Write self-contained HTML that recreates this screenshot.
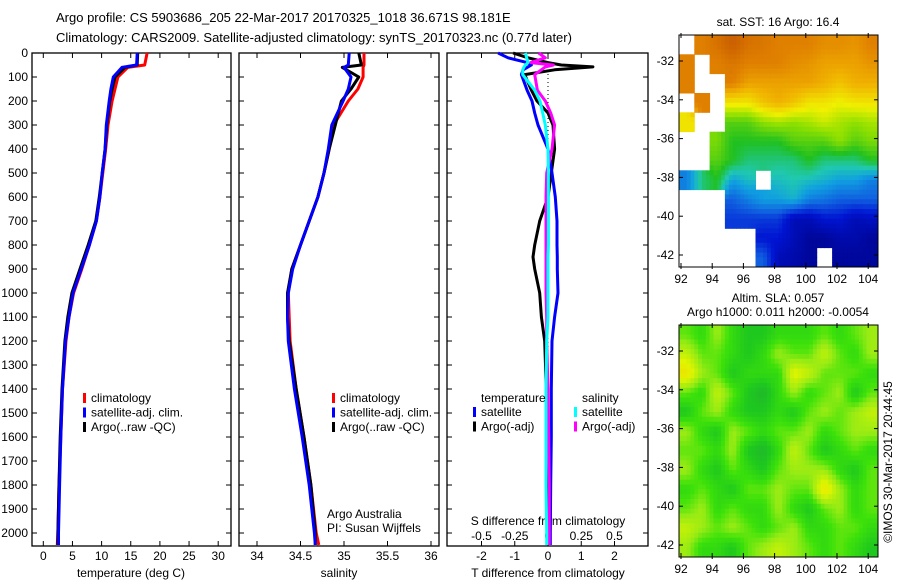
<!DOCTYPE html>
<html><head><meta charset="utf-8"><style>
body{margin:0;background:#fff;}
svg{display:block;font-family:"Liberation Sans",sans-serif;}
text{fill:#000;}
</style></head><body>
<svg id="c" width="900" height="580" viewBox="0 0 900 580">
<text x="56" y="22" font-size="13">Argo profile: CS 5903686_205 22-Mar-2017 20170325_1018 36.671S 98.181E</text>
<text x="56" y="42" font-size="13">Climatology: CARS2009. Satellite-adjusted climatology: synTS_20170323.nc (0.77d later)</text>
</svg>
<script>
// ---------- data ----------
const depthTicks=[0,100,200,300,400,500,600,700,800,900,1000,1100,1200,1300,1400,1500,1600,1700,1800,1900,2000];
const tempTicks=[0,5,10,15,20,25,30];
const salTicks=[34,34.5,35,35.5,36];
const tdTicks=[-2,-1,0,1,2];
const sdTicks=[-0.5,-0.25,0,0.25,0.5];
const sdTickLabels=["-0.5","-0.25","0","0.25","0.5"];
const latTicks=[-32,-34,-36,-38,-40,-42];
const lonTicks=[92,94,96,98,100,102,104];

const depths=[0,50,60,100,150,200,300,400,500,600,700,800,900,1000,1100,1200,1400,1600,1800,2000,2050];
const tempClim=[17.8,17.4,14.5,12.8,12.3,11.8,11.1,10.7,10.2,9.7,9.1,7.9,6.6,5.2,4.4,3.9,3.3,3.0,2.7,2.5,2.4];
const tempSat=[16.1,16.0,13.5,12.0,11.6,11.3,10.8,10.6,10.1,9.7,9.1,7.9,6.5,5.1,4.4,3.8,3.3,3.0,2.8,2.6,2.6];
const tempArgo=[16.2,16.1,14.0,12.3,11.8,11.4,10.9,10.6,10.1,9.6,9.0,7.7,6.3,4.9,4.2,3.7,3.2,2.9,2.7,2.5,2.5];
const salClim=[35.23,35.23,35.22,35.22,35.16,35.05,34.88,34.83,34.77,34.7,34.6,34.5,34.4,34.36,34.37,34.38,34.45,34.54,34.62,34.68,34.71];
const salSat=[35.06,35.05,35.0,35.08,35.05,34.99,34.86,34.82,34.77,34.7,34.6,34.5,34.41,34.36,34.35,34.36,34.43,34.52,34.6,34.66,34.67];
const salArgo=[35.17,35.2,34.98,35.17,35.08,34.97,34.9,34.83,34.77,34.7,34.6,34.5,34.4,34.35,34.35,34.37,34.45,34.54,34.62,34.67,34.67];

const dDepths=[0,20,40,50,58,70,90,155,200,250,300,400,500,600,700,800,850,900,1000,1100,1200,1400,1600,1800,2000,2050];
const tdSat=[-1.5,-1.2,-0.63,-0.5,-0.6,-0.75,-0.8,-0.63,-0.48,-0.4,-0.3,0,0.12,0.22,0.27,0.27,0.28,0.28,0.3,0.2,0.12,0.1,0.1,0.08,0.07,0.07];
const tdArgo=[-1.05,-0.6,0,0.4,1.35,0.2,-0.7,-0.5,-0.33,0,0.15,0.2,0.1,0,-0.25,-0.4,-0.45,-0.4,-0.25,-0.2,-0.1,-0.05,-0.03,0,0,0];
const sdSat=[-0.17,-0.16,-0.15,-0.17,-0.18,-0.19,-0.19,-0.1,-0.06,-0.04,-0.02,0,0.003,0.003,0.003,0.003,0,0,0,0,-0.01,-0.015,-0.015,-0.015,-0.01,-0.01];
const sdArgo=[-0.07,-0.02,-0.13,0.04,-0.02,-0.05,-0.1,-0.08,-0.02,0.02,0.05,0.03,-0.01,-0.015,-0.015,-0.015,-0.015,-0.015,-0.015,-0.01,-0.01,0,0.005,0.01,0.01,0.01];

const sstGrid=[
[null,0.85,0.88,0.92,0.88,0.87,0.85,0.85,0.85,0.83,0.83,0.82,0.85],
[0.85,null,0.85,0.87,0.85,0.85,0.85,0.83,0.82,0.8,0.8,0.8,0.82],
[0.85,null,null,0.85,0.8,0.8,0.8,0.8,0.8,0.78,0.75,0.78,0.78],
[null,0.85,null,0.7,0.7,0.75,0.78,0.75,0.7,0.7,0.68,0.7,0.7],
[0.7,null,null,0.55,0.55,0.6,0.62,0.6,0.62,0.65,0.62,0.6,0.62],
[null,null,0.58,0.5,0.5,0.5,0.5,0.55,0.55,0.55,0.6,0.55,0.58],
[null,null,0.55,0.5,0.45,0.45,0.45,0.45,0.5,0.45,0.45,0.45,0.5],
[0.3,0.45,0.5,0.35,0.4,null,0.4,0.42,0.4,0.38,0.35,0.35,0.3],
[null,null,null,0.25,0.3,0.35,0.35,0.38,0.3,0.28,0.25,0.25,0.25],
[null,null,null,0.2,0.2,0.2,0.2,0.1,0.1,0.15,0.15,0.1,0.12],
[null,null,null,null,null,0.15,0.15,0.1,0.05,0.05,0.08,0.08,0.05],
[null,null,null,null,null,0.25,0.1,0.08,0.05,null,0.05,0.05,0.05]];
const slaGrid=[
[.5,.4,.6,.4,.3,.3,.4,.4,.4,.5,.4,.5,.6],
[.7,.5,.5,.4,.3,.4,.6,.5,.5,.7,.5,.4,.6],
[.9,.6,.5,.3,.4,.4,.4,.8,.7,.5,.5,.5,.4],
[.5,.4,.7,.5,.3,.2,.4,.6,.4,.5,.6,.3,.5],
[.3,.5,.6,.4,.3,.3,.4,.3,.5,.6,.5,.6,.7],
[.6,.4,.3,.6,.5,.4,.5,.5,.6,.4,.5,.6,.6],
[.5,.5,.4,.6,.3,.2,.4,.7,.5,.3,.4,.5,.4],
[.6,.4,.3,.5,.4,.3,.5,.6,.6,.6,.4,.3,.5],
[.4,.5,.4,.3,.5,.5,.6,.5,.5,.9,.6,.4,.5],
[.5,.6,.4,.5,.4,.4,.6,.4,.3,.5,.6,.4,.5],
[.7,.6,.5,.6,.5,.4,.5,.6,.4,.4,.5,.5,.4],
[.6,.4,.4,.3,.5,.6,.7,.6,.5,.4,.5,.4,.3]];

// ---------- helpers ----------
const svg=document.getElementById('c');const NS='http://www.w3.org/2000/svg';
function mk(tag,at,parent){const e=document.createElementNS(NS,tag);for(const k in at)e.setAttribute(k,at[k]);(parent||svg).appendChild(e);return e;}
function txt(x,y,s,anchor,size){const t=mk('text',{x:x,y:y,'font-size':size||12,'text-anchor':anchor||'start'});t.textContent=s;return t;}
const Y=d=>53+d*0.24;
const top0=45,bot=546;
const panels=[
 {l:32,r:231,x:v=>43.3+v*5.83},
 {l:239,r:439,x:v=>257+(v-34)*87},
 {l:447,r:648,x:v=>548+v*33.25}];
const sx=v=>548+v*133;

panels.forEach((p,i)=>{
 const b=mk('rect',{x:p.l,y:top0+8,width:p.r-p.l,height:bot-top0-8,fill:'none',stroke:'#000','stroke-width':1.3});
 
 
 depthTicks.forEach(d=>{
  mk('line',{x1:p.l,x2:p.l+5,y1:Y(d),y2:Y(d),stroke:'#000'});
  mk('line',{x1:p.r-5,x2:p.r,y1:Y(d),y2:Y(d),stroke:'#000'});
 });
});
depthTicks.forEach(d=>{const t=txt(28,Y(d)+4,String(d),'end');
 
 });

function xticks(p,ticks,labels,ly,top){
 ticks.forEach((v,i)=>{const x=p(v);
  mk('line',{x1:x,x2:x,y1:bot-5,y2:bot,stroke:'#000'});
  if(top) mk('line',{x1:x,x2:x,y1:53,y2:58,stroke:'#000'});
  const t=txt(x,ly,labels?labels[i]:String(v),'middle');
  
  });
}
xticks(panels[0].x,tempTicks,null,560,true);
xticks(panels[1].x,salTicks,null,560,true);
xticks(panels[2].x,tdTicks,null,560,true);
sdTicks.forEach((v,i)=>{const t=txt(sx(v),540,sdTickLabels[i],'middle');
 
 });
[['temperature (deg C)',131,'temperature-axis-title'],['salinity',339,'salinity-axis-title'],['T difference from climatology',548,'t-diff-axis-title']].forEach(a=>{
 const t=txt(a[1],577,a[0],'middle');
 
 });
const sdt=txt(548,525,'S difference from climatology','middle');



mk('line',{x1:548,x2:548,y1:54,y2:545,stroke:'#000','stroke-dasharray':'1,3'});

function line(xs,ds,fx,col,name){
 const pts=xs.map((v,i)=>fx(v).toFixed(1)+','+Y(ds[i]).toFixed(1)).join(' ');
 const pl=mk('polyline',{points:pts,fill:'none',stroke:col,'stroke-width':3,'stroke-linejoin':'round'});
 
 
}
line(tempClim,depths,panels[0].x,'#f00','temp-climatology-line');
line(tempArgo,depths,panels[0].x,'#000','temp-argo-line');
line(tempSat,depths,panels[0].x,'#00f','temp-satellite-line');
line(salClim,depths,panels[1].x,'#f00','sal-climatology-line');
line(salArgo,depths,panels[1].x,'#000','sal-argo-line');
line(salSat,depths,panels[1].x,'#00f','sal-satellite-line');
line(tdArgo,dDepths,panels[2].x,'#000','tdiff-argo-line');
line(tdSat,dDepths,panels[2].x,'#00f','tdiff-satellite-line');
line(sdArgo,dDepths,sx,'#f0f','sdiff-argo-line');
line(sdSat,dDepths,sx,'#0ff','sdiff-satellite-line');

function legend(x,y,items,name){
 items.forEach((it,i)=>{
  const yy=y+i*14.5;
  mk('rect',{x:x,y:yy-9,width:3,height:10,fill:it[1]});
  const t=txt(x+8,yy,it[0]);
  
  
 });
}
const lg=[['climatology','#f00'],['satellite-adj. clim.','#00f'],['Argo(..raw -QC)','#000']];
legend(83,402,lg,'temp-legend');
legend(332,402,lg,'sal-legend');
txt(481,402,'temperature');
txt(582,402,'salinity');
legend(473,416,[['satellite','#00f'],['Argo(-adj)','#000']],'tdiff-legend');
legend(574,416,[['satellite','#0ff'],['Argo(-adj)','#f0f']],'sdiff-legend');
txt(327,518,'Argo Australia');txt(327,532,'PI: Susan Wijffels');

// ---------- maps ----------
function interp(stops,v){
 for(let i=1;i<stops.length;i++){if(v<=stops[i][0]){const a=stops[i-1],b=stops[i],t=(v-a[0])/(b[0]-a[0]);
  const c=[0,1,2].map(k=>Math.round(a[1][k]+(b[1][k]-a[1][k])*t));return 'rgb('+c.join(',')+')';}}
 const l=stops[stops.length-1][1];return 'rgb('+l.join(',')+')';
}
const jet=[[0,[0,0,128]],[0.15,[0,20,210]],[0.25,[16,96,224]],[0.35,[16,160,224]],[0.42,[32,200,176]],[0.5,[32,192,32]],[0.6,[144,224,0]],[0.68,[240,240,0]],[0.78,[240,176,0]],[0.85,[224,128,0]],[0.95,[192,80,0]],[1,[160,16,0]]];
const gy=[[0,[40,150,70]],[0.3,[30,200,30]],[0.45,[60,225,10]],[0.58,[150,235,20]],[0.78,[225,245,0]],[1,[240,215,0]]];
function sample(grid,fy,fx){
 const R=grid.length,C=grid[0].length;
 const ni=Math.min(R-1,Math.max(0,Math.round(fy))),nj=Math.min(C-1,Math.max(0,Math.round(fx)));
 if(grid[ni][nj]===null) return null;
 const y0=Math.max(0,Math.min(R-1,Math.floor(fy))),x0=Math.max(0,Math.min(C-1,Math.floor(fx)));
 const y1=Math.min(R-1,y0+1),x1=Math.min(C-1,x0+1);
 const ty=Math.max(0,Math.min(1,fy-y0)),tx=Math.max(0,Math.min(1,fx-x0));
 let s=0,w=0;
 [[y0,x0,(1-ty)*(1-tx)],[y0,x1,(1-ty)*tx],[y1,x0,ty*(1-tx)],[y1,x1,ty*tx]].forEach(q=>{const v=grid[q[0]][q[1]];if(v!==null){s+=v*q[2];w+=q[2];}});
 return w>0?s/w:grid[ni][nj];
}
function map(y0,y1,grid,cm,name,title){
 const l=679,r=878,lon=v=>681+(v-92)*15.6,lat=v=>(y0+26)+(-32-v)*(y1-y0-38)/10;
 const g=mk('g',{});
 const rows=grid.length,cols=grid[0].length,S=4,cw=(r-l)/cols/S,ch=(y1-y0)/rows/S;
 for(let j=0;j<rows*S;j++)for(let i=0;i<cols*S;i++){
  const v=sample(grid,(j+0.5)/S-0.5,(i+0.5)/S-0.5);if(v===null)continue;
  mk('rect',{x:(l+i*cw).toFixed(1),y:(y0+j*ch).toFixed(1),width:(cw+0.5).toFixed(1),height:(ch+0.5).toFixed(1),fill:interp(cm,v)},g);
 }
 mk('rect',{x:l,y:y0,width:r-l,height:y1-y0,fill:'none',stroke:'#000'});
 latTicks.forEach(v=>{const y=lat(v);mk('line',{x1:l,x2:l+4,y1:y,y2:y,stroke:'#000'});mk('line',{x1:r-4,x2:r,y1:y,y2:y,stroke:'#000'});txt(674,y+4,String(v),'end');});
 lonTicks.forEach(v=>{const x=lon(v);mk('line',{x1:x,x2:x,y1:y1-4,y2:y1+2,stroke:'#000'});mk('line',{x1:x,x2:x,y1:y0-2,y2:y0+3,stroke:'#000'});txt(x,y1+16,String(v),'middle');});
 title.forEach((s,k)=>txt(778,y0-9-(title.length-1-k)*14,s,'middle'));
}
map(35,267,sstGrid,jet,'sst-map',['sat. SST: 16 Argo: 16.4']);
map(325,557,slaGrid,gy,'sla-map',['Altim. SLA: 0.057','Argo h1000: 0.011 h2000: -0.0054']);
const cr=txt(0,0,'©IMOS 30-Mar-2017 20:44:45','middle');
cr.setAttribute('transform','translate(892,462) rotate(-90)');


</script>
</body></html>
